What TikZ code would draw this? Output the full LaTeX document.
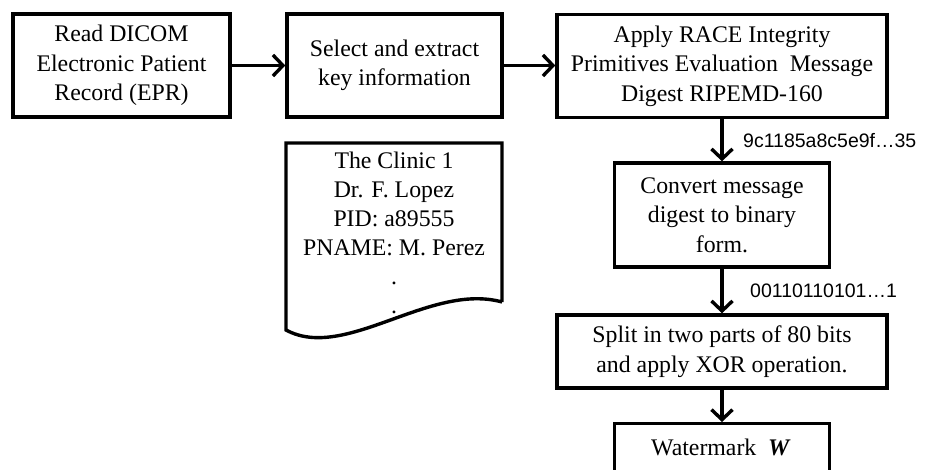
\documentclass[tikz,border=0pt]{standalone}
\usepackage{fontspec}
\setmainfont{Liberation Serif}
\newfontfamily\lsans{Liberation Sans}
\usetikzlibrary{arrows.meta}
\begin{document}
\begin{tikzpicture}[x=1pt,y=-1pt,
  box/.style={draw, line width=3.4pt, align=center, inner sep=0pt,
    font=\fontsize{23.8}{29.5}\selectfont},
  arr/.style={line width=3.4pt, -{Straight Barb[length=10pt,width=21pt]}},
  lab/.style={font=\lsans\fontsize{19.5}{23}\selectfont, anchor=west, inner sep=0pt}]
\clip (0,0) rectangle (931,470);
\fill[white] (0,0) rectangle (931,470);
\node[box, minimum width=217pt, minimum height=103pt] (b1) at (121.5,65.5)
  {Read DICOM\\Electronic Patient\\Record (EPR)};
\node[box, minimum width=215pt, minimum height=103pt] (b2) at (394.5,65.5)
  {Select and extract\\key information};
\node[box, minimum width=330pt, minimum height=103pt] (b3) at (722,66)
  {Apply RACE Integrity\\Primitives Evaluation\ \ Message\\Digest RIPEMD-160};
\node[box, minimum width=215pt, minimum height=104pt] (b4) at (722,215)
  {Convert message\\digest to binary\\form.};
\node[box, minimum width=330pt, minimum height=73pt] (b5) at (722,351.5)
  {Split in two parts of 80 bits\\and apply XOR operation.};
\node[box, minimum width=215pt, minimum height=90pt, anchor=north] (b6) at (722,422) {};
\node[font=\fontsize{23.8}{29.5}\selectfont, inner sep=0pt] (wt) at (721,447)
  {Watermark\ \ \textbf{\textit{W}}};
% document shape
\draw[line width=3.4pt, line join=miter] (502,302) -- (502,143) -- (286,143) -- (286,330)
  .. controls (345,362) and (430,282) .. (502,302);
\node[align=center, inner sep=0pt, font=\fontsize{23.8}{29}\selectfont] (doc) at (394,233)
  {The Clinic 1\\Dr. F. Lopez\\PID: a89555\\PNAME: M. Perez\\.\\.};
% connectors
\draw[arr] (b1.east) -- (b1.east -| b2.west);
\draw[arr] (b2.east) -- (b2.east -| b3.west);
\draw[arr] (b3.south) -- coordinate[pos=0.5] (m1) (b4.north);
\draw[arr] (b4.south) -- coordinate[pos=0.5] (m2) (b5.north);
\draw[arr] (b5.south) -- (b6.north);
\node[lab] (l1) at ([xshift=21pt]m1) {9c1185a8c5e9f…35};
\node[lab] (l2) at ([xshift=28pt]m2) {00110110101…1};
\end{tikzpicture}
\end{document}
